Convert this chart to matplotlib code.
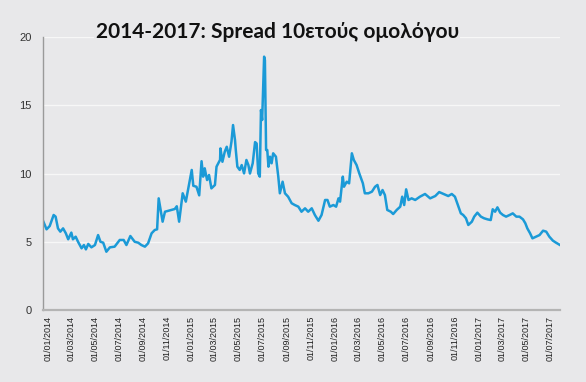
import pandas as pd
import matplotlib.pyplot as plt
import matplotlib.dates as mdates

# spread readings (dates and values)
dates = [
    '2013-12-20', '2013-12-29', '2014-01-06', '2014-01-16', '2014-01-21', '2014-01-27',
    '2014-02-02', '2014-02-09', '2014-02-16', '2014-02-22', '2014-03-02', '2014-03-06',
    '2014-03-13', '2014-03-19', '2014-03-28', '2014-04-03', '2014-04-08', '2014-04-14',
    '2014-04-22', '2014-05-01', '2014-05-09', '2014-05-15', '2014-05-22', '2014-05-30',
    '2014-06-08', '2014-06-20', '2014-07-03', '2014-07-13', '2014-07-20', '2014-07-30',
    '2014-08-10', '2014-08-19', '2014-08-27', '2014-09-05', '2014-09-13', '2014-09-22',
    '2014-09-30', '2014-10-06', '2014-10-10', '2014-10-20', '2014-10-26', '2014-11-07',
    '2014-11-20', '2014-11-25', '2014-12-01', '2014-12-10', '2014-12-18', '2014-12-26',
    '2015-01-02', '2015-01-06', '2015-01-14', '2015-01-21', '2015-01-27', '2015-01-31',
    '2015-02-04', '2015-02-10', '2015-02-15', '2015-02-21', '2015-03-02', '2015-03-06',
    '2015-03-15', '2015-03-16', '2015-03-21', '2015-03-27', '2015-04-01', '2015-04-07',
    '2015-04-13', '2015-04-17', '2015-04-22', '2015-04-24', '2015-04-28', '2015-05-04',
    '2015-05-09', '2015-05-15', '2015-05-21', '2015-05-26', '2015-05-30', '2015-06-06',
    '2015-06-12', '2015-06-16', '2015-06-20', '2015-06-24', '2015-06-27', '2015-06-30',
    '2015-07-05', '2015-07-07', '2015-07-10', '2015-07-13', '2015-07-16', '2015-07-20',
    '2015-07-24', '2015-07-28', '2015-08-04', '2015-08-10', '2015-08-14', '2015-08-21',
    '2015-08-27', '2015-09-04', '2015-09-13', '2015-09-21', '2015-09-30', '2015-10-08',
    '2015-10-17', '2015-10-25', '2015-11-03', '2015-11-11', '2015-11-20', '2015-11-28',
    '2015-12-07', '2015-12-13', '2015-12-19', '2015-12-28', '2016-01-04', '2016-01-10',
    '2016-01-14', '2016-01-21', '2016-01-24', '2016-01-31', '2016-02-06', '2016-02-13',
    '2016-02-18', '2016-02-25', '2016-03-03', '2016-03-12', '2016-03-17', '2016-03-26',
    '2016-04-04', '2016-04-12', '2016-04-18', '2016-04-25', '2016-05-01', '2016-05-07',
    '2016-05-13', '2016-05-22', '2016-05-28', '2016-06-06', '2016-06-15', '2016-06-20',
    '2016-06-25', '2016-06-30', '2016-07-06', '2016-07-14', '2016-07-23', '2016-08-04',
    '2016-08-17', '2016-08-30', '2016-09-12', '2016-09-22', '2016-10-03', '2016-10-15',
    '2016-10-24', '2016-11-01', '2016-11-10', '2016-11-16', '2016-11-22', '2016-11-29',
    '2016-12-05', '2016-12-14', '2016-12-20', '2016-12-28', '2017-01-06', '2017-01-14',
    '2017-01-23', '2017-01-31', '2017-02-05', '2017-02-11', '2017-02-17', '2017-02-24',
    '2017-03-03', '2017-03-11', '2017-03-20', '2017-03-28', '2017-04-06', '2017-04-14',
    '2017-04-23', '2017-04-29', '2017-05-04', '2017-05-11', '2017-05-17', '2017-05-26',
    '2017-06-04', '2017-06-13', '2017-06-21', '2017-06-29', '2017-07-08', '2017-07-16',
    '2017-07-26',
]
spread = [
    6.54, 5.91, 6.15, 6.96, 6.84, 5.98,
    5.74, 5.98, 5.62, 5.18, 5.67, 5.18,
    5.37, 5.00, 4.52, 4.76, 4.44, 4.84,
    4.59, 4.76, 5.49, 5.00, 4.93, 4.27,
    4.59, 4.64, 5.13, 5.13, 4.76, 5.42,
    5.00, 4.93, 4.76, 4.64, 4.88, 5.62,
    5.86, 5.91, 8.18, 6.47, 7.20, 7.30,
    7.40, 7.60, 6.47, 8.55, 7.94, 9.16,
    10.26, 9.10, 9.03, 8.40, 10.90, 9.77,
    10.38, 9.52, 9.89, 8.91, 9.16, 10.50,
    11.00, 11.84, 10.86, 11.60, 11.96, 11.23,
    12.33, 13.55, 12.45, 11.72, 10.50, 10.26,
    10.62, 10.01, 10.99, 10.62, 10.00, 10.75,
    12.30, 12.20, 10.00, 9.77, 14.65, 13.92,
    18.56, 18.30, 11.72, 11.72, 10.50, 11.23,
    10.75, 11.48, 11.23, 9.77, 8.55, 9.40,
    8.55, 8.30, 7.82, 7.69, 7.57, 7.20,
    7.45, 7.20, 7.45, 6.96, 6.54, 6.96,
    8.06, 8.06, 7.57, 7.69, 7.57, 8.18,
    7.94, 9.77, 9.03, 9.40, 9.28, 11.48,
    10.99, 10.62, 10.00, 9.28, 8.55, 8.55,
    8.67, 9.03, 9.16, 8.42, 8.79, 8.42,
    7.33, 7.20, 7.03, 7.33, 7.57, 8.30,
    7.69, 8.84, 8.06, 8.18, 8.06, 8.30,
    8.50, 8.18, 8.35, 8.64, 8.50, 8.35,
    8.50, 8.30, 7.57, 7.08, 6.96, 6.72,
    6.23, 6.47, 6.84, 7.13, 6.84, 6.72,
    6.64, 6.59, 7.38, 7.20, 7.52, 7.13,
    6.96, 6.84, 6.96, 7.08, 6.84, 6.84,
    6.64, 6.35, 5.98, 5.62, 5.25, 5.37,
    5.49, 5.81, 5.74, 5.37, 5.08, 4.93,
    4.76,
]
yticks = [0, 5, 10, 15, 20]
title = '2014-2017: Spread 10ετούς ομολόγου'

df = pd.DataFrame({'date': pd.to_datetime(dates), 'spread': spread})

bg = '#e8e8ea'
fig = plt.figure(figsize=(5.86, 3.82), dpi=100, facecolor=bg)
ax = fig.add_axes([0.0734, 0.1885, 0.8822, 0.7146], facecolor=bg)

ax.plot(df['date'], df['spread'], color='#1b9ad7', lw=1.8)

ax.set_ylim(0, 20)
ax.set_yticks(yticks)
ax.set_xlim(pd.Timestamp('2013-12-20'), pd.Timestamp('2017-07-26'))
ax.xaxis.set_major_locator(mdates.MonthLocator(bymonth=[1, 3, 5, 7, 9, 11]))
ax.xaxis.set_major_formatter(mdates.DateFormatter('%d/%m/%Y'))

ax.grid(axis='y', color='#f7f7f7', lw=1)
ax.set_axisbelow(True)
for s in ['top', 'right']:
    ax.spines[s].set_visible(False)
ax.spines['left'].set_color('#9a9a9a')
ax.spines['left'].set_linewidth(1)
ax.spines['bottom'].set_color('#b4b4b4')
ax.spines['bottom'].set_linewidth(1.6)

ax.tick_params(axis='y', length=0, pad=8, labelsize=8, labelcolor='#333333')
ax.tick_params(axis='x', length=0, pad=4, labelsize=6.5, labelcolor='#222222',
               labelrotation=90)
for lab in ax.get_xticklabels() + ax.get_yticklabels():
    lab.set_family('Liberation Sans')

fig.text(0.473, 0.9005, title, ha='center', va='baseline', fontsize=15,
         fontweight='bold', family=['Lato', 'DejaVu Sans'], color='#111111',
         bbox=dict(facecolor=bg, edgecolor='none', pad=1))

plt.savefig('out.png', dpi=100, facecolor=bg)
